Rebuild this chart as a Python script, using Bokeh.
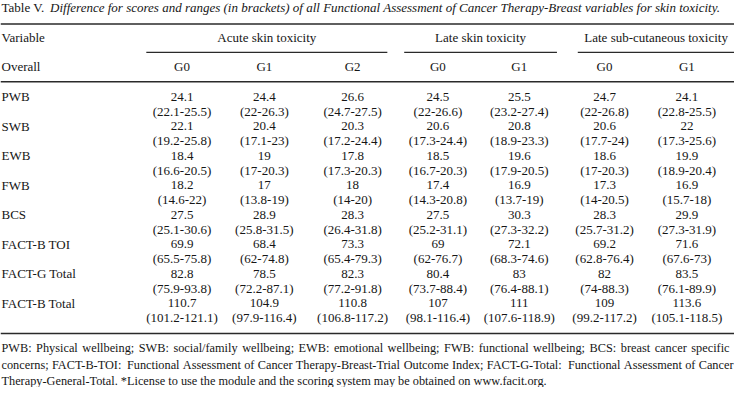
from bokeh.plotting import figure
from bokeh.models import Range1d, ColumnDataSource
from bokeh.core.properties import value
from bokeh.embed import file_html
from bokeh.resources import INLINE

# ---------------- data ----------------
variables = ["PWB", "SWB", "EWB", "FWB", "BCS", "FACT-B TOI", "FACT-G Total", "FACT-B Total"]
groups = ["Acute skin toxicity", "Late skin toxicity", "Late sub-cutaneous toxicity"]
grades = ["G0", "G1", "G2", "G0", "G1", "G0", "G1"]

acute_g0 = [24.1, 22.1, 18.4, 18.2, 27.5, 69.9, 82.8, 110.7]
acute_g0_range = ["22.1-25.5", "19.2-25.8", "16.6-20.5", "14.6-22", "25.1-30.6", "65.5-75.8", "75.9-93.8", "101.2-121.1"]
acute_g1 = [24.4, 20.4, 19, 17, 28.9, 68.4, 78.5, 104.9]
acute_g1_range = ["22-26.3", "17.1-23", "17-20.3", "13.8-19", "25.8-31.5", "62-74.8", "72.2-87.1", "97.9-116.4"]
acute_g2 = [26.6, 20.3, 17.8, 18, 28.3, 73.3, 82.3, 110.8]
acute_g2_range = ["24.7-27.5", "17.2-24.4", "17.3-20.3", "14-20", "26.4-31.8", "65.4-79.3", "77.2-91.8", "106.8-117.2"]
late_g0 = [24.5, 20.6, 18.5, 17.4, 27.5, 69, 80.4, 107]
late_g0_range = ["22-26.6", "17.3-24.4", "16.7-20.3", "14.3-20.8", "25.2-31.1", "62-76.7", "73.7-88.4", "98.1-116.4"]
late_g1 = [25.5, 20.8, 19.6, 16.9, 30.3, 72.1, 83, 111]
late_g1_range = ["23.2-27.4", "18.9-23.3", "17.9-20.5", "13.7-19", "27.3-32.2", "68.3-74.6", "76.4-88.1", "107.6-118.9"]
sub_g0 = [24.7, 20.6, 18.6, 17.3, 28.3, 69.2, 82, 109]
sub_g0_range = ["22-26.8", "17.7-24", "17-20.3", "14-20.5", "25.7-31.2", "62.8-76.4", "74-88.3", "99.2-117.2"]
sub_g1 = [24.1, 22, 19.9, 16.9, 29.9, 71.6, 83.5, 113.6]
sub_g1_range = ["22.8-25.5", "17.3-25.6", "18.9-20.4", "15.7-18", "27.3-31.9", "67.6-73", "76.1-89.9", "105.1-118.5"]

title_lead = "Table V."
title_rest = "Difference for scores and ranges (in brackets) of all Functional Assessment of Cancer Therapy-Breast variables for skin toxicity."
footnotes = [
    "PWB: Physical wellbeing; SWB: social/family wellbeing; EWB: emotional wellbeing; FWB: functional wellbeing; BCS: breast cancer specific",
    "concerns; FACT-B-TOI: Functional Assessment of Cancer Therapy-Breast-Trial Outcome Index; FACT-G-Total: Functional Assessment of Cancer",
    "Therapy-General-Total. *License to use the module and the scoring system may be obtained on www.facit.org.",
]

# ---------------- layout (table coordinates) ----------------
col_x = [184, 267, 356, 442, 524, 610, 693]
group_span = [(148, 391), (408, 562), (583, 741)]
FONT = value("'Liberation Serif', Tinos, 'Times New Roman', Times, serif")
FS = "13px"
FOOT_FS = 12.3
INK = "#161616"
X0, X1 = 1, 741
PX_W = 734
UNIT = (X1 - X0) / PX_W  # data units per pixel

p = figure(width=PX_W, height=387, output_backend="svg", toolbar_location=None,
           x_range=Range1d(X0, X1), y_range=Range1d(396, 1),
           x_axis_type=None, y_axis_type=None, min_border=0)
p.outline_line_color = None
p.grid.visible = False
p.background_fill_color = "white"
p.border_fill_color = "white"

def txt(xs, ys, texts, align="center", style="normal", fs=FS):
    src = ColumnDataSource(dict(x=xs, y=ys, t=texts))
    p.text(x="x", y="y", text="t", source=src, text_align=align, text_baseline="middle",
           text_font=FONT, text_font_size=fs, text_color=INK, text_font_style=style)

# title
txt([2], [8], [title_lead], align="left")
txt([51], [8], [title_rest], align="left", style="italic")

# rules
rule_y = [25, 84, 341]
p.segment(x0=[1] * 3, x1=[741] * 3, y0=rule_y, y1=rule_y, line_color="#2a2a2a", line_width=1.5)
p.segment(x0=[g[0] for g in group_span], x1=[g[1] for g in group_span],
          y0=[54] * 3, y1=[54] * 3, line_color="#2a2a2a", line_width=1.3)

# headers
txt([2, 2], [39, 68], ["Variable", "Overall"], align="left")
txt([(a + b) / 2 for a, b in group_span], [39] * 3, groups)
txt(col_x, [68] * len(grades), grades)

# body
row0, step = 99, 15.07
vals = [acute_g0, acute_g1, acute_g2, late_g0, late_g1, sub_g0, sub_g1]
rngs = [acute_g0_range, acute_g1_range, acute_g2_range, late_g0_range, late_g1_range, sub_g0_range, sub_g1_range]
ys_val = [row0 + 2 * i * step for i in range(len(variables))]
ys_rng = [y + step for y in ys_val]
txt([2] * len(variables), ys_val, variables, align="left")
for cx, v, r in zip(col_x, vals, rngs):
    txt([cx] * len(v), ys_val, [f"{a:g}" for a in v])
    txt([cx] * len(r), ys_rng, [f"({s})" for s in r])

# footnotes: justified lines (word widths from Times-compatible metrics)
TW = {' ': 250, '!': 333, '(': 333, ')': 333, '*': 500, ',': 250, '-': 333, '.': 250, '/': 278,
      ':': 278, ';': 278, 'A': 722, 'B': 667, 'C': 667, 'D': 722, 'E': 611, 'F': 556, 'G': 722,
      'H': 722, 'I': 333, 'J': 389, 'K': 722, 'L': 611, 'M': 889, 'N': 722, 'O': 722, 'P': 556,
      'Q': 722, 'R': 667, 'S': 556, 'T': 611, 'U': 722, 'V': 722, 'W': 944, 'X': 722, 'Y': 722,
      'Z': 611, 'a': 444, 'b': 500, 'c': 444, 'd': 500, 'e': 444, 'f': 333, 'g': 500, 'h': 500,
      'i': 278, 'j': 278, 'k': 500, 'l': 278, 'm': 778, 'n': 500, 'o': 500, 'p': 500, 'q': 500,
      'r': 333, 's': 389, 't': 278, 'u': 500, 'v': 500, 'w': 722, 'x': 500, 'y': 500, 'z': 444}

def wpx(word, fs):
    return sum(TW.get(c, 500) for c in word) * fs / 1000.0

foot_y = [356, 373, 389]
foot_right = [736, 740]
fx, fy, ft = [], [], []
for i, line in enumerate(footnotes):
    if i < len(foot_right):
        words = line.split(" ")
        widths = [wpx(w, FOOT_FS) * UNIT for w in words]
        gap = (foot_right[i] - 2 - sum(widths)) / (len(words) - 1)
        x = 2.0
        for w, wd in zip(words, widths):
            fx.append(x); fy.append(foot_y[i]); ft.append(w)
            x += wd + gap
    else:
        fx.append(2); fy.append(foot_y[i]); ft.append(line)
txt(fx, fy, ft, align="left", fs=f"{FOOT_FS}px")

open("out.html", "w").write(file_html(p, INLINE))
